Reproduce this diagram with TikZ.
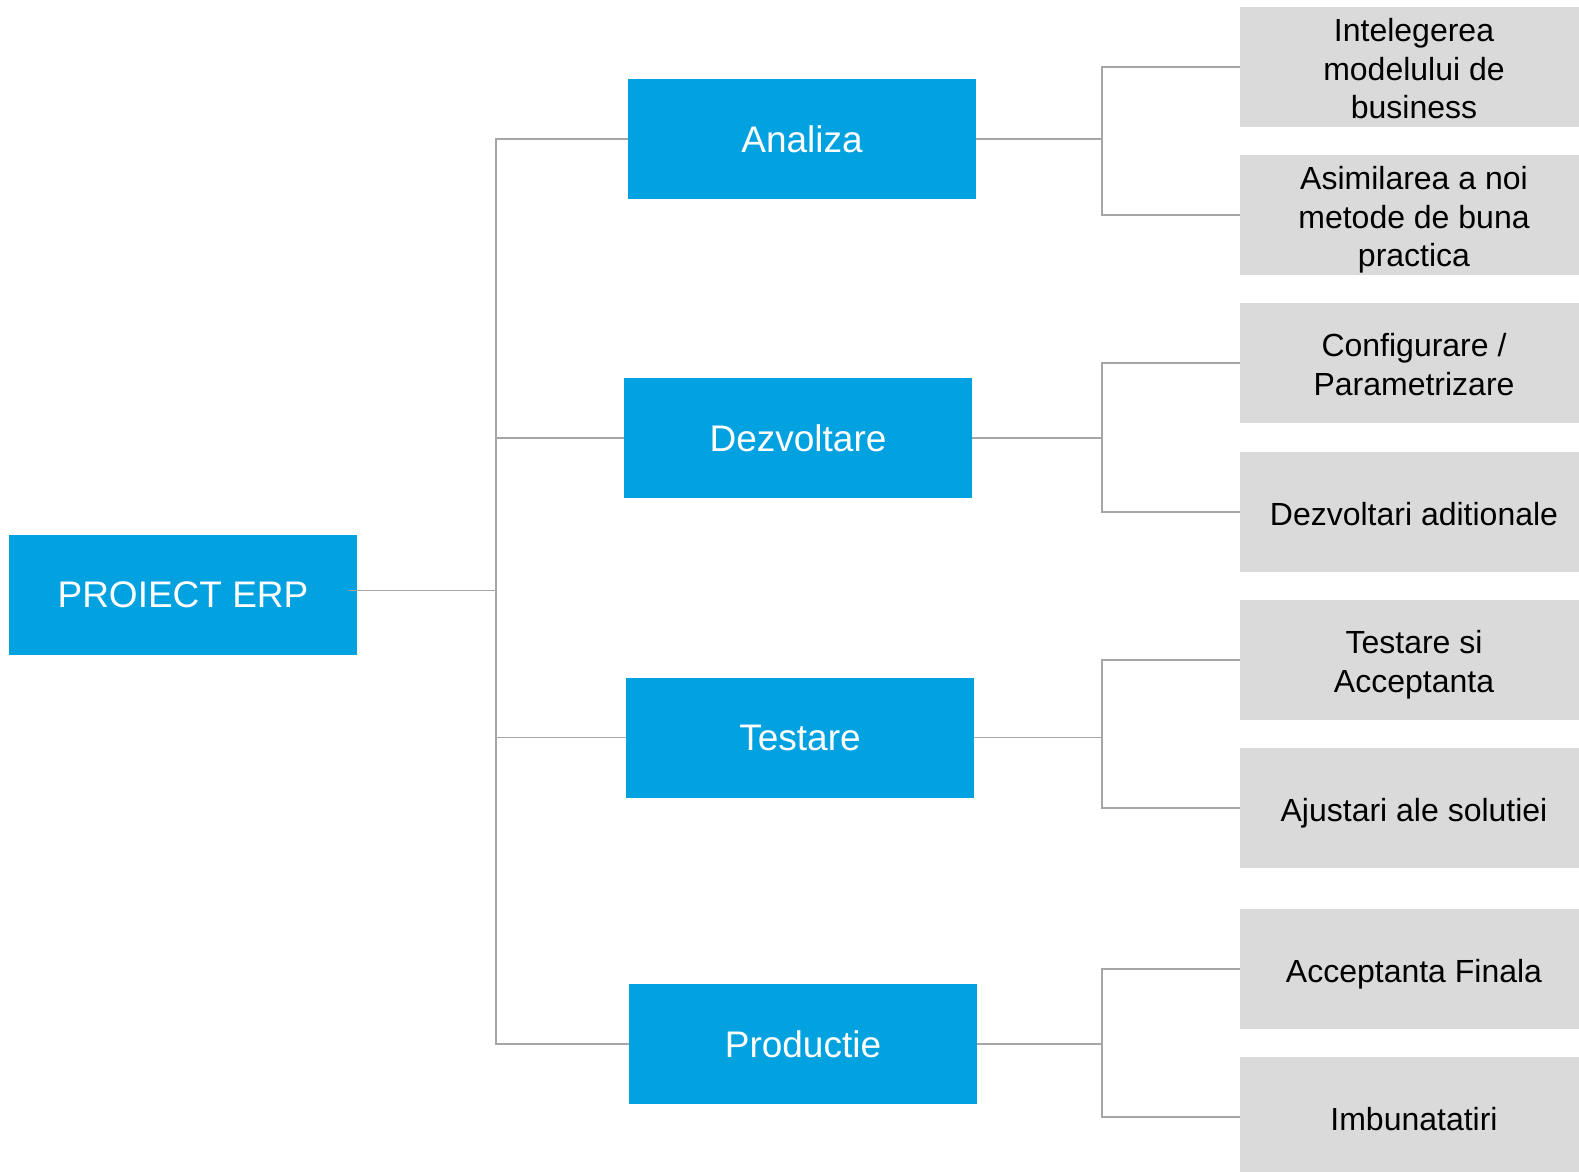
\documentclass[tikz,border=0pt]{standalone}
\usepackage{fontspec}
\setmainfont{Liberation Sans}
\definecolor{boxblue}{RGB}{2,161,223}
\definecolor{boxgray}{RGB}{218,218,218}
\definecolor{linegray}{RGB}{166,166,166}
\newcommand{\tsa}{\rule{0pt}{33bp}}
\newcommand{\tsb}{\rule[-6.8bp]{0pt}{6.8bp}}
\begin{document}
\begin{tikzpicture}[x=1bp,y=-1bp,
  stage/.style={fill=boxblue,draw=none,minimum width=348bp,minimum height=120bp,inner sep=0pt,
    text=white,font=\fontsize{37bp}{44bp}\selectfont,align=center},
  task/.style={fill=boxgray,draw=none,minimum width=348bp,minimum height=120bp,inner sep=0pt,
    text=black,font=\fontsize{32bp}{38.5bp}\selectfont,align=center},
  conn/.style={draw=linegray,line width=1.8bp}]
\useasboundingbox (0,0) rectangle (1579,1171);
\clip (0,0) rectangle (1579,1171);
\node[stage] (root) at (183,595) {PROIECT ERP};
\node[stage] (an) at (802,139) {Analiza};
\node[stage] (dz) at (798,438) {Dezvoltare};
\node[stage] (te) at (800,737.5) {Testare};
\node[stage] (pr) at (803,1044) {Productie};
\node[task] (g1) at (1414,67) {\tsa Intelegerea\\modelului de\\business\tsb};
\node[task] (g2) at (1414,215) {\tsa Asimilarea a noi\\metode de buna\\practica\tsb};
\node[task] (g3) at (1414,363) {\tsa Configurare /\\Parametrizare\tsb};
\node[task] (g4) at (1414,512) {\tsa Dezvoltari aditionale\tsb};
\node[task] (g5) at (1414,660) {\tsa Testare si\\Acceptanta\tsb};
\node[task] (g6) at (1414,808) {\tsa Ajustari ale solutiei\tsb};
\node[task] (g7) at (1414,969) {\tsa Acceptanta Finala\tsb};
\node[task] (g8) at (1414,1117) {\tsa Imbunatatiri\tsb};
% trunk
\coordinate (tx) at (496,0);
\coordinate (bx) at (1102,0);
\coordinate (rootout) at ([xshift=-8bp,yshift=4.5bp]root.east);
\draw[conn] (rootout) -- (rootout -| tx);
\draw[conn] (an.west) -- (an.west -| tx) -- (pr.west -| tx) -- (pr.west);
\draw[conn] (dz.west) -- (dz.west -| tx);
\draw[conn] (te.west) -- (te.west -| tx);
% branches
\draw[conn] (an.east) -- (an.east -| bx);
\draw[conn] (g1.west) -- (g1.west -| bx) -- (g2.west -| bx) -- (g2.west);
\draw[conn] (dz.east) -- (dz.east -| bx);
\draw[conn] (g3.west) -- (g3.west -| bx) -- (g4.west -| bx) -- (g4.west);
\draw[conn] (te.east) -- (te.east -| bx);
\draw[conn] (g5.west) -- (g5.west -| bx) -- (g6.west -| bx) -- (g6.west);
\draw[conn] (pr.east) -- (pr.east -| bx);
\draw[conn] (g7.west) -- (g7.west -| bx) -- (g8.west -| bx) -- (g8.west);
\end{tikzpicture}
\end{document}
